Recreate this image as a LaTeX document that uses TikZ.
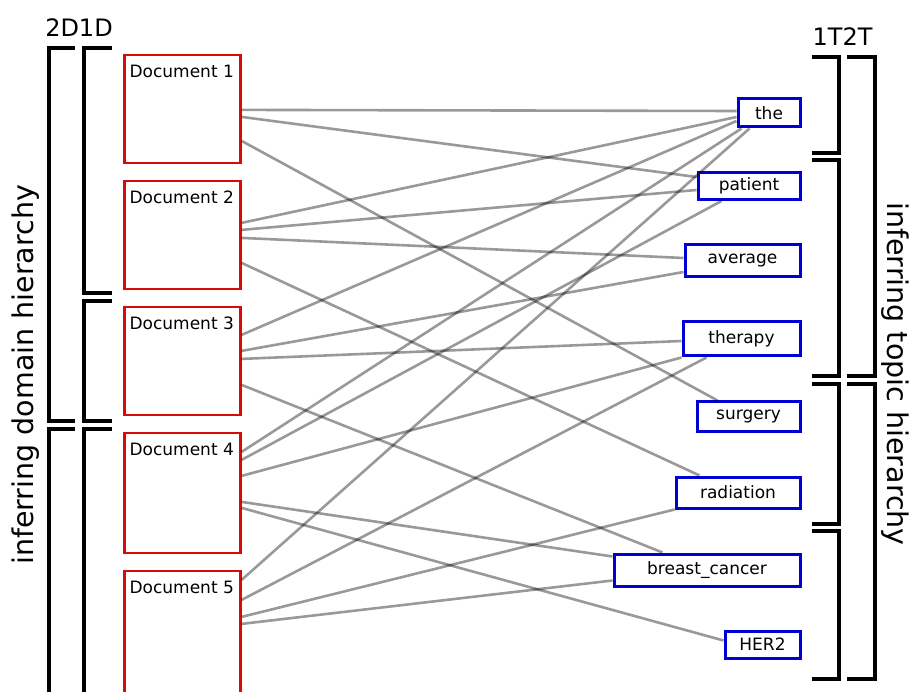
\documentclass[tikz,border=0pt]{standalone}
\usepackage{fontspec}
\setmainfont{DejaVu Sans}
\definecolor{docred}{RGB}{218,10,10}
\definecolor{wordblue}{RGB}{0,0,210}

\begin{document}
\begin{tikzpicture}[x=1pt, y=-1pt,
    doc node/.style={rectangle, draw=docred, line width=2.2pt, minimum width=116pt, minimum height=108pt, inner sep=0pt},
    doc label/.style={anchor=north west, inner sep=0pt, xshift=6pt, yshift=-11pt, font=\fontsize{17}{20}\selectfont},
    word node/.style={rectangle, draw=wordblue, line width=3pt, inner sep=0pt, font=\fontsize{17}{20}\selectfont},
    link/.style={draw=black, draw opacity=0.4, line width=2.6pt},
    bracket/.style={line width=3.5pt}]

    \useasboundingbox (0,0) rectangle (913,692);
    \clip (0,0) rectangle (913,692);

    % Documents
    \node[doc node, label={[doc label]north west:Document 1}] (doc1) at (182.5,109) {};
    \node[doc node, label={[doc label]north west:Document 2}] (doc2) at (182.5,235) {};
    \node[doc node, label={[doc label]north west:Document 3}] (doc3) at (182.5,361) {};
    \node[doc node, minimum height=120pt, label={[doc label]north west:Document 4}] (doc4) at (182.5,493) {};
    \node[doc node, minimum height=122pt, label={[doc label]north west:Document 5}] (doc5) at (182.5,632) {};

    % Words
    \node[word node, minimum width=62pt, minimum height=28pt] (the) at (769,113) {the};
    \node[word node, minimum width=102pt, minimum height=27pt] (patient) at (749,186) {patient};
    \node[word node, minimum width=115pt, minimum height=32pt] (average) at (742.5,261) {average};
    \node[word node, minimum width=117pt, minimum height=34pt] (therapy) at (741.5,339) {therapy};
    \node[word node, minimum width=103pt, minimum height=29pt] (surgery) at (748.5,416.5) {surgery};
    \node[word node, minimum width=124pt, minimum height=31pt] (radiation) at (738,492.5) {radiation};
    \node[word node, minimum width=186pt, minimum height=32pt] (cancer) at (707,570) {breast\_cancer};
    \node[word node, minimum width=75pt, minimum height=27pt] (her) at (762.5,644.5) {HER2};

    % Links from documents to words
    \draw[link] ([yshift=-56pt]doc1.north east) -- ([yshift=2pt]the.west);
    \draw[link] ([yshift=-63pt]doc1.north east) -- ([yshift=9pt]patient.west);
    \draw[link] ([yshift=-87pt]doc1.north east) -- ([xshift=22pt]surgery.north west);

    \draw[link] ([yshift=-43pt]doc2.north east) -- ([yshift=-4pt]the.west);
    \draw[link] ([yshift=-50pt]doc2.north east) -- ([yshift=-4pt]patient.west);
    \draw[link] ([yshift=-58pt]doc2.north east) -- ([yshift=3pt]average.west);
    \draw[link] ([yshift=-83pt]doc2.north east) -- ([xshift=25pt]radiation.north west);

    \draw[link] ([yshift=-29pt]doc3.north east) -- ([yshift=-8pt]the.west);
    \draw[link] ([yshift=-45pt]doc3.north east) -- ([yshift=-11pt]average.west);
    \draw[link] ([yshift=-53pt]doc3.north east) -- ([yshift=-2pt]therapy.west);
    \draw[link] ([yshift=-79pt]doc3.north east) -- ([xshift=50pt]cancer.north west);

    \draw[link] ([yshift=-20pt]doc4.north east) -- ([xshift=5pt]the.south west);
    \draw[link] ([yshift=-28pt]doc4.north east) -- ([xshift=25pt]patient.south west);
    \draw[link] ([yshift=-44pt]doc4.north east) -- (therapy.south west);
    \draw[link] ([yshift=-70pt]doc4.north east) -- ([yshift=-4pt]cancer.north west);
    \draw[link] ([yshift=-76pt]doc4.north east) -- ([yshift=4pt]her.west);

    \draw[link] ([yshift=-10pt]doc5.north east) -- ([xshift=13pt]the.south west);
    \draw[link] ([yshift=-30pt]doc5.north east) -- ([xshift=25pt]therapy.south west);
    \draw[link] ([yshift=-47pt]doc5.north east) -- (radiation.south west);
    \draw[link] ([yshift=-54pt]doc5.north east) -- ([yshift=7pt]cancer.south west);

    % Domain brackets
    \draw[bracket] (75,48) -- (49,48) -- (49,421) -- (75,421);
    \draw[bracket] (75,429) -- (49,429) -- (49,700);
    \foreach \a/\b in {48/293, 301/421}
        \draw[bracket] (112,\a) -- (84,\a) -- (84,\b) -- (112,\b);
    \draw[bracket] (112,429) -- (84,429) -- (84,700);

    % Topic brackets
    \foreach \a/\b in {57/153, 160/376, 384/524, 531/679}
        \draw[bracket] (812,\a) -- (839,\a) -- (839,\b) -- (812,\b);
    \foreach \a/\b in {57/376, 384/679}
        \draw[bracket] (847,\a) -- (875,\a) -- (875,\b) -- (847,\b);

    % Level labels
    \node[anchor=base, inner sep=0pt, font=\fontsize{24}{27}\selectfont] (dlevels) at (79,37) {2D1D};
    \node[anchor=base, inner sep=0pt, font=\fontsize{24}{27}\selectfont] (tlevels) at (842.5,46) {1T2T};
    \node[rotate=90, anchor=base, inner sep=0pt, font=\fontsize{28.5}{32}\selectfont] (dtitle) at (34,375) {inferring domain hierarchy};
    \node[rotate=-90, anchor=base, inner sep=0pt, font=\fontsize{28.5}{32}\selectfont] (ttitle) at (887,374) {inferring topic hierarchy};

\end{tikzpicture}
\end{document}
